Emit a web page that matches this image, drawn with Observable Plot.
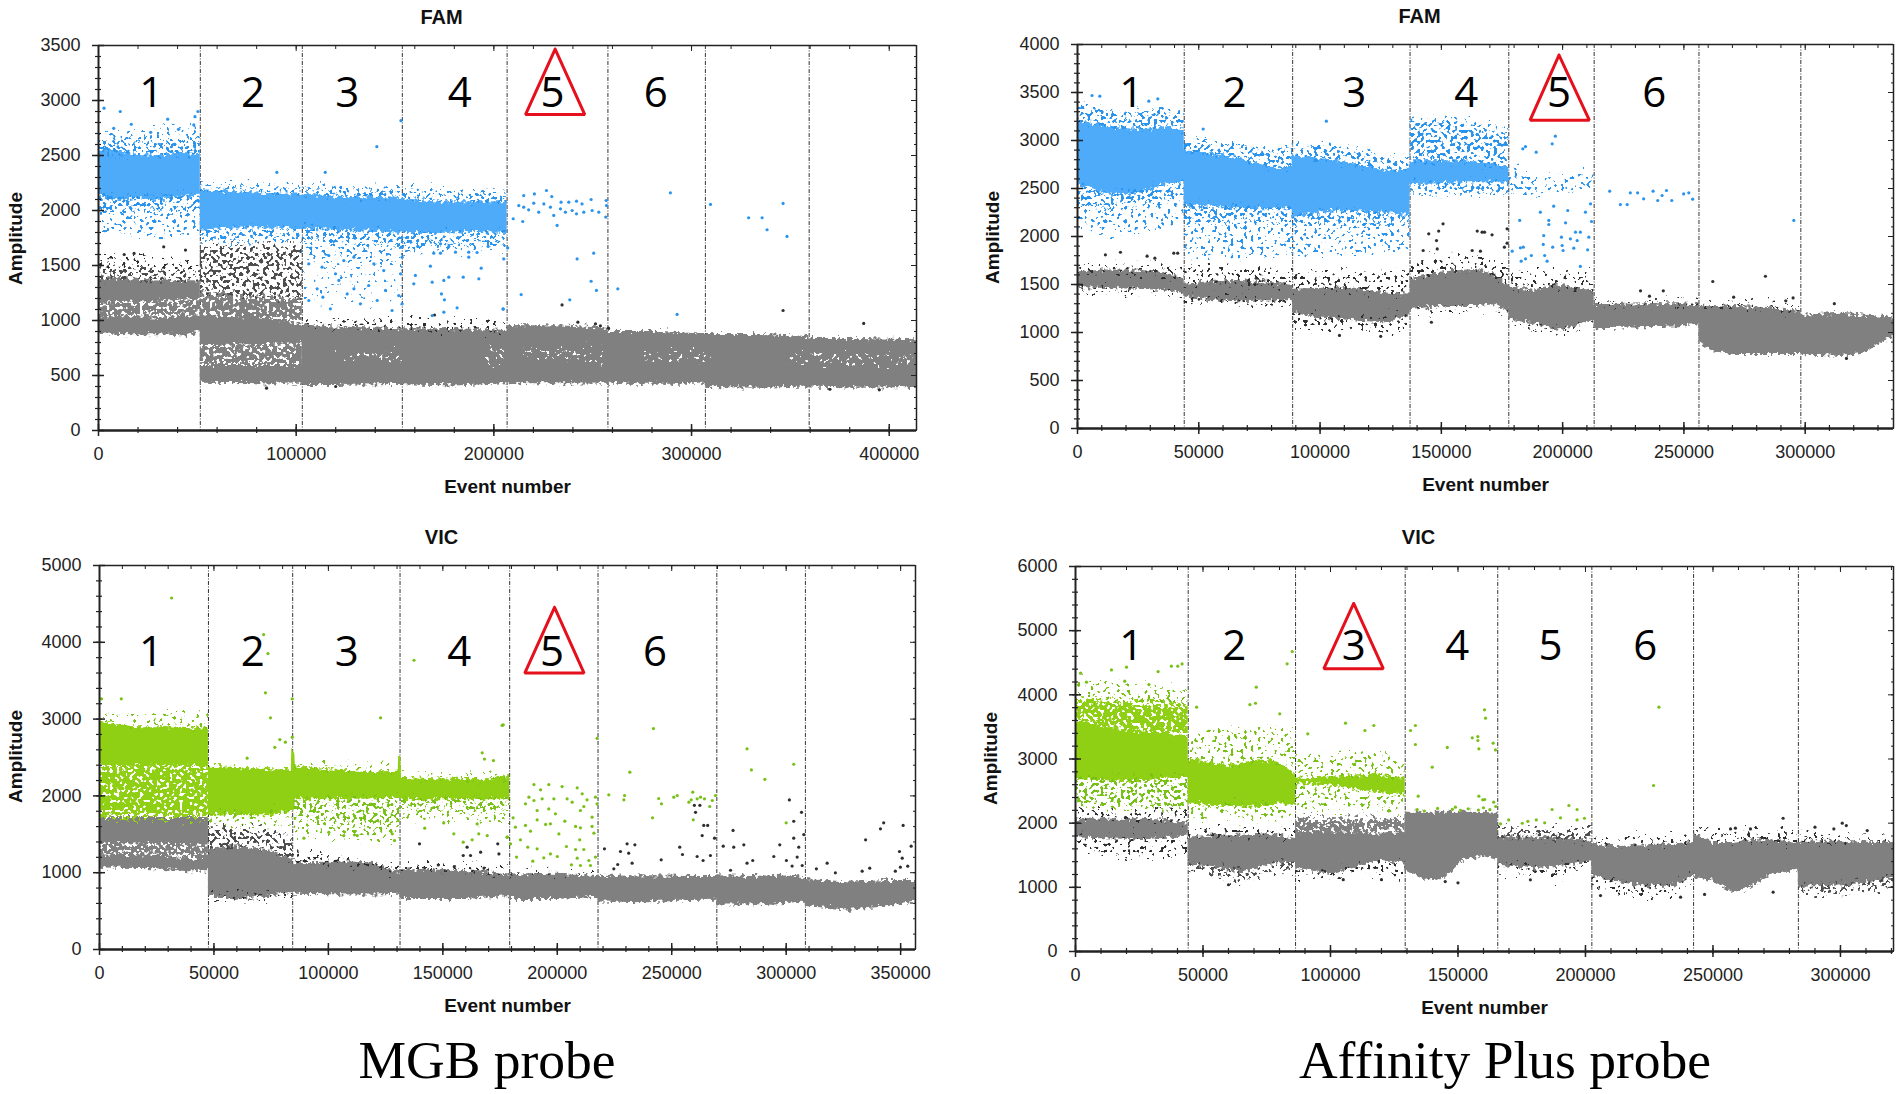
<!DOCTYPE html>
<html>
<head>
<meta charset="utf-8">
<script src="https://cdn.jsdelivr.net/npm/d3@7"></script>
<script src="https://cdn.jsdelivr.net/npm/@observablehq/plot@0.6"></script>
<style>
  body { margin: 0; background: #fff; }
  #page { position: relative; width: 1902px; height: 1094px; overflow: hidden; }
  #page > svg { position: absolute; }
  .probe { position: absolute; transform: translate(-50%, -50%); white-space: nowrap;
           font-family: "Liberation Serif", serif; font-size: 53.5px; color: #000; }
</style>
</head>
<body>
<svg id="filters" width="0" height="0" style="position:absolute"><defs></defs></svg>
<div id="page"></div>
<script>
// grain and rough edges for the bands that are too dense to list droplet by droplet
const roughen = (seed, scale) => `
  <feTurbulence type="fractalNoise" baseFrequency="0.27" numOctaves="2" seed="${seed}" result="t"/>
  <feColorMatrix in="t" type="matrix" values="0 0 0 0 .5 0 1 0 0 0 0 0 1 0 0 0 0 0 0 1" result="d"/>
  <feDisplacementMap in="SourceGraphic" in2="d" scale="${scale}" xChannelSelector="R" yChannelSelector="G" result="r"/>`
const filterTag = (id, body) => `<filter id="${id}" filterUnits="userSpaceOnUse" x="0" y="0" width="951" height="584" color-interpolation-filters="sRGB">${body}</filter>`
const speckFilter = (id, seed, cut) => filterTag(id, roughen(seed + 1, 26) + `
  <feTurbulence type="fractalNoise" baseFrequency="0.3" numOctaves="1" seed="${seed}" result="n"/>
  <feColorMatrix in="n" type="matrix" values="0 0 0 0 0 0 0 0 0 0 0 0 0 0 0 0 0 0 30 ${-cut}" result="m"/>
  <feComposite in="r" in2="m" operator="in"/>`)
document.querySelector('#filters defs').innerHTML =
  filterTag('rough', roughen(31, 10)) +
  speckFilter('speck8', 4, 20.1) + speckFilter('speck20', 9, 18) + speckFilter('speck40', 15, 16) + speckFilter('speck70', 21, 11.8)

const gap = [NaN, NaN, NaN] // breaks an area between two wells

// band rows are [event, low amplitude, high amplitude]
// dot rows are [event, amplitude]

// ---------- FAM, MGB probe ----------
const famMgbDividers = [51500, 103100, 153700, 206700, 257700, 307000, 359500]
const famMgbDigits = [26700, 78200, 125800, 182800, 229700, 281900]
const famMgbTriangle = [[231000, 3467], [246000, 2872], [216000, 2872], [231000, 3467]]
const famMgbGraySolid = [
  [0, 880, 1030], [15000, 870, 1040], [30000, 870, 1020], [44000, 860, 1040], [51500, 900, 1040], gap,
  [0, 1160, 1390], [25000, 1170, 1370], [51500, 1190, 1360], gap,
  [51500, 430, 590], [103100, 420, 590], gap,
  [51500, 770, 1040], [80000, 780, 1030], [103100, 790, 960], gap,
  [103100, 410, 960], [120000, 410, 940], [153700, 420, 925], gap,
  [153700, 415, 925], [180000, 405, 925], [206700, 425, 910], gap,
  [206700, 425, 955], [235000, 425, 950], [257700, 420, 930], gap,
  [257700, 420, 900], [285000, 420, 900], [307000, 420, 875], gap,
  [307000, 390, 873], [335000, 385, 873], [359500, 395, 855], gap,
  [359500, 395, 836], [385000, 385, 836], [413800, 390, 825]
]
const famMgbGrayDense = [
  [0, 1030, 1160], [51500, 1040, 1190], gap,
  [51500, 1040, 1250], [103100, 960, 1190], gap,
  [51500, 590, 770], [80000, 590, 780], [103100, 590, 790]
]
const famMgbGrayMedium = [
  [0, 1390, 1480], [25000, 1370, 1470], [51500, 1360, 1430], gap,
  [51500, 1250, 1670], [103100, 1190, 1670]
]
const famMgbGrayLight = [
  [0, 1480, 1560], [25000, 1470, 1590], [51500, 1430, 1500], gap,
  [103100, 960, 1000], [153700, 925, 990], [206700, 910, 990]
]
const famMgbBlueSolid = [
  [0, 2130, 2550], [10000, 2090, 2540], [20000, 2110, 2510], [30000, 2090, 2500], [40000, 2120, 2520], [51500, 2130, 2510], gap,
  [51500, 1820, 2190], [70000, 1840, 2170], [90000, 1840, 2150], [103100, 1830, 2150], [120000, 1820, 2130],
  [140000, 1810, 2120], [153700, 1790, 2110], [170000, 1790, 2080], [190000, 1800, 2080], [206700, 1790, 2080]
]
const famMgbBlueMedium = [
  [0, 2500, 2620], [51500, 2510, 2630], gap,
  [0, 1990, 2130], [51500, 2000, 2130], gap,
  [51500, 2190, 2230], [103100, 2150, 2210], [153700, 2110, 2190], [206700, 2080, 2150], gap,
  [51500, 1730, 1820], [103100, 1730, 1830], [153700, 1680, 1790], [206700, 1720, 1790]
]
const famMgbBlueLight = [
  [0, 1780, 1990], [51500, 1780, 2000], gap,
  [0, 2620, 2700], [51500, 2630, 2780], gap,
  [103100, 1550, 1730], [153700, 1500, 1680], gap,
  [153700, 1620, 1720], [206700, 1650, 1720]
]
const famMgbBlueSparse = [
  [103100, 1150, 1550], [153700, 1150, 1500]
]
const famMgbHoles = [
  [120000, 640, 700], [153700, 640, 700], gap, [195000, 620, 720], [206700, 620, 720], gap,
  [215000, 660, 720], [257000, 640, 710], gap, [275000, 650, 700], [310000, 650, 700], gap, [350000, 610, 680], [412000, 610, 680]
]
const famMgbBlueDots = [
  [2800, 2930], [11000, 2900], [35000, 2830], [16600, 2784], [7700, 2747], [26400, 2711], [40500, 2738], [48800, 2853], [50300, 2900], [48200, 2778],
  [140800, 2580], [114700, 2347], [90200, 2347], [153000, 2817],
  [215100, 2136], [220500, 2151], [226600, 2182], [229300, 2127], [234000, 2076], [237900, 2076], [241800, 2085], [244600, 2060], [249200, 2100], [256800, 2091],
  [257000, 2045], [256600, 1940], [212600, 2045], [215100, 2030], [217600, 2006], [220200, 2067], [222700, 1985], [225300, 2060], [228600, 2030], [230300, 1955],
  [233700, 2015], [236200, 1985], [239600, 2000], [241800, 1970], [245500, 1985], [249700, 2000], [253100, 1985], [209800, 1925], [214600, 1900], [232000, 1864],
  [207000, 1660], [205000, 1560], [250500, 1612], [242100, 1560], [249200, 1357], [251900, 1273], [262700, 1288], [213800, 1236], [238400, 1188], [204700, 1103],
  [289300, 2161], [292700, 1055], [309600, 2055], [328900, 1934], [335700, 1934], [338200, 1825], [346300, 2064], [348300, 1764],
  [167900, 1494], [160300, 1410], [168800, 1348], [174700, 1364], [177200, 1394], [184500, 1394], [192400, 1379], [193600, 1476], [173000, 1612], [169600, 1612],
  [177200, 1673], [180600, 1621], [187300, 1621], [187300, 1576], [191500, 1618], [197100, 1673], [173000, 1697], [186500, 1727], [173500, 1242], [175000, 1188],
  [174700, 1076], [181400, 1115], [168800, 1045], [204700, 1106], [161500, 1673], [159500, 1333],
  [106400, 1182], [110600, 1288], [113500, 1212], [117300, 1106], [121600, 1364], [125800, 1242], [129200, 1288], [132500, 1152], [136700, 1318], [141000, 1182],
  [145200, 1273], [148500, 1091], [151900, 1227], [113100, 1485], [119900, 1424], [129200, 1576], [139300, 1515], [144300, 1454], [116500, 1591], [106400, 1515],
  [124100, 1545], [152800, 1424], [153600, 1576], [153600, 1667], [153600, 1152]
]
const famMgbGrayDots = [
  [234500, 1142], [346300, 1091], [387100, 973], [242500, 985], [251400, 970], [253900, 952],
  [33000, 1670], [44000, 1640], [13000, 1600], [18000, 1610], [170000, 1050], [258000, 930], [120000, 400], [85000, 385], [370000, 375], [395000, 370]
]

// ---------- FAM, Affinity Plus probe ----------
const famAffDividers = [44000, 88700, 137100, 177800, 213000, 256200, 298200]
const famAffDigits = [22200, 64700, 114100, 160300, 198500, 237800]
const famAffTriangle = [[198500, 3889], [211000, 3212], [186600, 3212], [198500, 3889]]
const famAffGraySolid = [
  [0, 1470, 1620], [10000, 1460, 1650], [24000, 1450, 1650], [34000, 1440, 1630], [44000, 1410, 1570], gap,
  [44000, 1370, 1500], [55000, 1330, 1530], [66000, 1320, 1545], [80000, 1330, 1520], [88700, 1330, 1490], gap,
  [88700, 1200, 1450], [100000, 1150, 1460], [115000, 1120, 1460], [128000, 1100, 1410], [137100, 1190, 1400], gap,
  [137100, 1240, 1560], [150000, 1270, 1630], [165000, 1270, 1660], [172000, 1290, 1600], [177800, 1220, 1490], gap,
  [177800, 1130, 1480], [188000, 1090, 1440], [197000, 1020, 1500], [205000, 1060, 1470], [213000, 1130, 1430], gap,
  [213000, 1040, 1290], [235000, 1050, 1300], [248000, 1060, 1300], [256200, 1090, 1290], gap,
  [256200, 900, 1285], [262000, 800, 1280], [270000, 770, 1270], [285000, 770, 1260], [298200, 770, 1220], gap,
  [298200, 770, 1180], [315000, 750, 1200], [325000, 790, 1180], [332000, 900, 1170], [336400, 960, 1150]
]
const famAffGrayLight = [
  [0, 1620, 1700], [44000, 1570, 1680], gap,
  [44000, 1500, 1690], [88700, 1490, 1640], gap,
  [88700, 1450, 1630], [137100, 1400, 1620], gap,
  [137100, 1560, 1760], [165000, 1660, 1780], [177800, 1490, 1700], gap,
  [177800, 1480, 1620], [213000, 1430, 1590], gap,
  [0, 1420, 1470], [44000, 1360, 1410], gap,
  [44000, 1300, 1370], [88700, 1270, 1330], gap,
  [88700, 1040, 1200], [115000, 1020, 1120], [137100, 1030, 1190], gap,
  [137100, 1210, 1240], [177800, 1200, 1220], gap,
  [177800, 1090, 1130], [197000, 1000, 1020], [213000, 1060, 1130], gap,
  [213000, 1300, 1320], [298200, 1230, 1290]
]
const famAffBlueSolid = [
  [0, 2540, 3190], [6000, 2500, 3180], [13600, 2430, 3140], [22000, 2440, 3120], [30000, 2490, 3130], [38000, 2550, 3130], [44000, 2560, 3110], gap,
  [44000, 2323, 2896], [65800, 2288, 2823], [79500, 2288, 2721], [88500, 2288, 2720], gap,
  [88500, 2198, 2844], [107000, 2271, 2792], [127600, 2240, 2687], [137100, 2219, 2704], gap,
  [137100, 2540, 2790], [160000, 2560, 2790], [177800, 2555, 2730]
]
const famAffBlueMedium = [
  [0, 3190, 3380], [15000, 3140, 3280], [25000, 3120, 3290], [35000, 3130, 3320], [44000, 3110, 3290], gap,
  [0, 2350, 2540], [13600, 2280, 2430], [30000, 2340, 2490], [44000, 2420, 2560], gap,
  [44000, 2896, 3000], [65800, 2823, 2950], [79500, 2721, 2900], [88500, 2720, 2920], gap,
  [88500, 2844, 2960], [107000, 2792, 2930], [127600, 2687, 2810], [137100, 2704, 2790], gap,
  [44000, 2150, 2323], [88500, 2180, 2288], gap,
  [88500, 2100, 2198], [107000, 2120, 2271], [137100, 2130, 2219], gap,
  [137100, 2790, 3200], [160000, 2790, 3200], [177800, 2730, 3080], gap,
  [137100, 2450, 2540], [177800, 2450, 2555]
]
const famAffBlueLight = [
  [0, 2050, 2350], [13600, 2050, 2280], [30000, 2050, 2340], [44000, 2150, 2420], gap,
  [44000, 1800, 2150], [88500, 1800, 2180], gap,
  [88500, 1800, 2100], [137100, 1850, 2130], gap,
  [177800, 2450, 2700], [195000, 2450, 2620], [213000, 2480, 2660]
]
const famAffBlueDots = [
  [6000, 3469], [9200, 3462], [33100, 3434], [29400, 3410], [102600, 3201], [51800, 3120],
  [197000, 3045], [195700, 2965], [184700, 2937], [183600, 2913], [189100, 2878], [182300, 2167],
  [219400, 2472], [223800, 2333], [226600, 2333], [227900, 2455], [230900, 2455], [233400, 2392], [237300, 2472], [239200, 2375], [241000, 2427], [242800, 2479],
  [245000, 2375], [249900, 2444], [252000, 2455], [253600, 2389], [295300, 2167],
  [196300, 2316], [202100, 2271], [190800, 2253], [194300, 2167], [194300, 2125], [201200, 2142], [209400, 2253], [211500, 2340], [211900, 2156], [205300, 2045],
  [207300, 2045], [192200, 2010], [199500, 1993], [203200, 1976], [206000, 1958], [210800, 1993], [192000, 1917], [199800, 1906], [195900, 1889], [204600, 1878],
  [210300, 1861], [182600, 1882], [183800, 1889], [179200, 1847], [200200, 1854], [192600, 1802], [187100, 1802], [184700, 1767], [182900, 1743], [193600, 1743], [207300, 1688]
]
const famAffGrayDots = [
  [167800, 2045], [170900, 2017], [177100, 2080], [177100, 1930], [176000, 1889], [261900, 1531], [283600, 1586], [270500, 1368], [232100, 1434], [235800, 1378], [241500, 1434],
  [11500, 1809], [17700, 1836], [28700, 1795], [31900, 1774], [39700, 1826], [41300, 1826], [145900, 1107], [150700, 2132], [148900, 2056], [144800, 2028],
  [164800, 2056], [166800, 2045], [148000, 1958], [142500, 1854], [148300, 1871], [162700, 1854], [166100, 1847], [108000, 970], [125000, 960], [292000, 1330], [295000, 1360], [312000, 1300], [317000, 730]
]

// ---------- VIC, MGB probe ----------
const vicMgbDividers = [47600, 84400, 131300, 179200, 217800, 269700, 308400]
const vicMgbDigits = [22500, 67000, 108000, 157200, 197700, 242700]
const vicMgbTriangle = [[198800, 4456], [211700, 3600], [185800, 3600], [198800, 4456]]
const vicMgbGraySolid = [
  [0, 1060, 1230], [25000, 1050, 1230], [40000, 1010, 1170], [47600, 1030, 1230], gap,
  [0, 1380, 1720], [47600, 1360, 1720], gap,
  [47600, 700, 1300], [60000, 640, 1350], [75000, 700, 1280], [84400, 730, 1170], gap,
  [84400, 720, 1130], [110000, 710, 1140], [120000, 710, 1120], [131300, 720, 1000], gap,
  [131300, 650, 1040], [160000, 650, 1030], [179200, 690, 970], gap,
  [179200, 650, 970], [200000, 650, 980], [217800, 680, 950], gap,
  [217800, 620, 950], [240000, 610, 960], [262000, 640, 950], [269700, 640, 950], gap,
  [269700, 580, 960], [285000, 580, 950], [300000, 600, 970], [308400, 620, 930], gap,
  [308400, 560, 910], [328000, 510, 880], [345000, 560, 900], [356500, 620, 900]
]
const vicMgbGrayDense = [
  [0, 1220, 1380], [25000, 1220, 1380], [40000, 1170, 1360], [47600, 1230, 1360]
]
const vicMgbGrayMedium = [
  [47600, 1300, 1600], [70000, 1350, 1550], [84400, 1170, 1450]
]
const vicMgbGrayLight = [
  [84400, 1130, 1280], [131300, 1000, 1100], gap,
  [131300, 1040, 1120], [179200, 970, 1070], gap,
  [179200, 970, 1000], [217800, 950, 990], gap,
  [47600, 610, 700], [84400, 690, 730]
]
const vicMgbGreenSolid = [
  [0, 2400, 2960], [15000, 2380, 2900], [30000, 2390, 2900], [47600, 2380, 2880], gap,
  [47600, 1760, 2390], [60000, 1740, 2370], [75000, 1740, 2340], [83800, 1800, 2340], [84000, 1800, 2600], [85200, 1800, 2600], [85600, 1950, 2390],
  [100000, 1950, 2340], [120000, 1960, 2310], [130500, 1970, 2320], [130700, 1970, 2510], [131600, 1970, 2510], [132000, 1950, 2240],
  [150000, 1950, 2220], [170000, 1950, 2210], [179200, 1950, 2270]
]
const vicMgbGreenDense = [
  [0, 1720, 2400], [47600, 1720, 2380]
]
const vicMgbGreenMedium = [
  [85000, 1700, 1950], [131300, 1600, 1970], gap,
  [131300, 1850, 1950], [179200, 1800, 1950]
]
const vicMgbGreenLight = [
  [0, 2960, 3050], [47600, 2880, 3050], gap,
  [47600, 1600, 1760], [84400, 1650, 1800], gap,
  [85000, 1500, 1700], [131300, 1400, 1600], gap,
  [131300, 1700, 1850], [179200, 1650, 1800], gap,
  [85000, 2340, 2400], [131000, 2320, 2400], gap, [131500, 2240, 2280], [179200, 2210, 2280]
]
const vicMgbGreenDots = [
  [175900, 2917], [189800, 2148], [192700, 2079], [196300, 2148], [202100, 2122], [208700, 2105], [187600, 1983], [189800, 1940], [193400, 1962], [198500, 1962],
  [204300, 1962], [206500, 1918], [210900, 2027], [213000, 1949], [216700, 1983], [217400, 1897], [186100, 1897], [191200, 1810], [196300, 1831], [210100, 1810],
  [211600, 1862], [215200, 1723], [199200, 1766], [191200, 1688], [180700, 1714], [203300, 1671], [186100, 1615], [181700, 1593], [197000, 1636], [194900, 1628],
  [208000, 1602], [210100, 1584], [215200, 1602], [188300, 1541], [200700, 1505], [216000, 1514], [209800, 1428], [183900, 1428], [178100, 1463], [179600, 1376],
  [187100, 1333], [191200, 1311], [204000, 1341], [208000, 1302], [211600, 1302], [197000, 1245], [194100, 1194], [200000, 1211], [182200, 1203], [189300, 1150],
  [208700, 1189], [213800, 1159], [214500, 1094], [210100, 1094], [206200, 1102], [216700, 1203],
  [217400, 2750], [222500, 2014], [231700, 2309], [242000, 2877], [229400, 2005], [229100, 1949], [244300, 1966], [245500, 1897], [241600, 1714], [250900, 1983],
  [252400, 2005], [259200, 2048], [257500, 1918], [258500, 1949], [261100, 1962], [262600, 1983], [264300, 1962], [266600, 1862], [267700, 1940], [269100, 2005], [259400, 1688],
  [282900, 2613], [284800, 2338], [290700, 2216], [303300, 2412], [300000, 1649],
  [9500, 3264], [900, 3264], [72500, 3342], [74700, 3016], [78800, 2734], [81200, 2700], [76600, 2633], [84200, 3264], [84200, 2765], [64500, 2491], [122800, 3016],
  [167200, 2561], [168200, 2480], [172100, 2460], [176400, 2925], [31500, 4577], [71700, 4101], [73600, 3853], [137400, 3766],
  [154800, 1506], [158900, 1397], [162800, 1428], [165700, 1506], [169400, 1484], [142100, 1580], [178100, 1463], [150400, 1648], [165000, 1635],
  [89300, 1449], [100200, 1526], [106700, 1484], [112600, 1484], [127900, 1506], [128900, 1419]
]
const vicMgbGrayDots = [
  [301400, 1948], [306700, 1786], [303300, 1670], [307700, 1497], [303300, 1450], [305500, 1332], [297200, 1363], [294600, 1211], [300100, 1159], [304800, 1203],
  [302600, 1086], [307000, 1094], [282900, 1124], [285400, 1159], [276800, 1550], [277100, 1332], [272500, 1345], [281500, 1363], [275700, 1032],
  [259900, 1877], [262300, 1877], [260400, 1786], [264000, 1615], [265700, 1615], [263300, 1484], [268700, 1450], [253500, 1332], [254700, 1237], [261100, 1211],
  [266900, 1224], [245400, 1168], [263700, 1159], [220600, 1311], [227600, 1276], [230500, 1376], [231200, 1254], [233900, 1363], [232700, 1124], [226400, 1107], [224700, 1051],
  [342600, 1649], [341200, 1571], [334700, 1428], [351100, 1615], [349500, 1276], [350700, 1189], [354600, 1345], [313200, 1051], [317900, 1124], [321500, 998],
  [336500, 1059], [333200, 1020], [347700, 1020], [349900, 1072], [353100, 1085],
  [139800, 1376], [160600, 1332], [166500, 1267], [162100, 1224], [174000, 1376], [174500, 1245], [158900, 1224], [148000, 1100], [155000, 1080], [168000, 1060]
]

// ---------- VIC, Affinity Plus probe ----------
const vicAffDividers = [44200, 86300, 129300, 165600, 202500, 242400, 283500]
const vicAffDigits = [21900, 62300, 109100, 149700, 186300, 223400]
const vicAffTriangle = [[109100, 5424], [120700, 4408], [97400, 4408], [109100, 5424]]
const vicAffGraySolid = [
  [0, 1770, 2060], [25000, 1740, 2060], [35000, 1760, 2050], [44200, 1800, 2000], gap,
  [44200, 1360, 1780], [55000, 1300, 1820], [66000, 1230, 1810], [76000, 1360, 1840], [86300, 1380, 1760], gap,
  [86300, 1300, 1850], [100000, 1200, 1870], [110000, 1320, 1850], [120000, 1420, 1830], [129300, 1380, 1850], gap,
  [129300, 1260, 2170], [137000, 1110, 2170], [145000, 1140, 2170], [152000, 1420, 2170], [160000, 1480, 2170], [165600, 1420, 2150], gap,
  [165600, 1350, 1790], [180000, 1290, 1780], [190000, 1330, 1780], [202500, 1400, 1720], gap,
  [202500, 1180, 1680], [212000, 1080, 1640], [225000, 1010, 1650], [235000, 1020, 1680], [242400, 1180, 1700], gap,
  [242400, 1160, 1860], [250000, 1100, 1700], [258000, 910, 1700], [265000, 1000, 1740], [272000, 1180, 1740], [283500, 1270, 1700], gap,
  [283500, 1000, 1720], [300000, 1020, 1720], [312000, 1080, 1700], [320800, 1140, 1700]
]
const vicAffGrayDense = [
  [86300, 1850, 2060], [129300, 1850, 2040]
]
const vicAffGrayMedium = [
  [44200, 1300, 1360], [55000, 1180, 1300], [66000, 1080, 1230], [76000, 1230, 1360], [86300, 1280, 1380], gap,
  [165600, 1790, 1900], [202500, 1720, 1880], gap,
  [283500, 900, 1000], [300000, 910, 1020], [312000, 960, 1080], [320800, 1020, 1140]
]
const vicAffGrayLight = [
  [0, 2060, 2220], [44200, 2000, 2180], gap,
  [0, 1600, 1770], [20000, 1500, 1740], [44200, 1500, 1800], gap,
  [44200, 1780, 1900], [86300, 1760, 1900], gap,
  [86300, 1170, 1300], [100000, 1150, 1200], [115000, 1250, 1400], [129300, 1120, 1380], gap,
  [165600, 1200, 1350], [190000, 1150, 1330], [202500, 1330, 1400], gap,
  [202500, 1680, 1750], [242400, 1700, 1800], gap,
  [202500, 1030, 1180], [212000, 900, 1080], [225000, 860, 1010], [235000, 860, 1020], [242400, 1100, 1180], gap,
  [242400, 1860, 1900], [260000, 1700, 1870], [283500, 1700, 1880], gap,
  [283500, 1720, 1800], [320800, 1700, 1780]
]
const vicAffGreenSolid = [
  [0, 2680, 3600], [20000, 2650, 3450], [44200, 2700, 3350], gap,
  [44200, 2300, 3000], [60000, 2260, 2900], [72000, 2250, 2990], [80000, 2300, 2950], [86300, 2300, 2750], gap,
  [86300, 2620, 2700], [100000, 2580, 2720], [118000, 2480, 2750], [129300, 2440, 2700]
]
const vicAffGreenDense = [
  [0, 3600, 3930], [20000, 3450, 3880], [44200, 3350, 3850]
]
const vicAffGreenMedium = [
  [0, 2260, 2680], [44200, 2230, 2700]
]
const vicAffGreenLight = [
  [0, 3930, 4200], [22000, 3880, 4150], [44200, 3850, 4050], gap,
  [44200, 3000, 3400], [60000, 2900, 3450], [75000, 2990, 3500], [86300, 2750, 3400], gap,
  [44200, 2050, 2300], [86300, 2050, 2300], gap,
  [86300, 2700, 3050], [108000, 2720, 3100], [120000, 2750, 3100], [129300, 2700, 2900], gap,
  [86300, 2200, 2620], [129300, 2200, 2440]
]
const vicAffGreenDots = [
  [131400, 3444], [133300, 3522], [133300, 3226], [139900, 2873], [145800, 3180], [155600, 3330], [157800, 3350], [157800, 3288], [158200, 3158], [160400, 3766],
  [160800, 3636], [134400, 2421], [158200, 2421], [160500, 2369],
  [2000, 4337], [14100, 4388], [20000, 4431], [32400, 4362], [37600, 4446], [40100, 4446], [41800, 4482], [4300, 4197], [19300, 4213], [28800, 4160],
  [83000, 4483], [85000, 4675], [70900, 4120], [68400, 3848], [70600, 3869], [80100, 3704], [47500, 3808],
  [105900, 3558], [113500, 3444], [117000, 3522], [91100, 3392],
  [163800, 3246], [164700, 3142], [159700, 2364], [164000, 2327], [166700, 1989], [169900, 2051], [175200, 1999], [177400, 2029], [180700, 2051], [184000, 2005],
  [186900, 2213], [190200, 2083], [193500, 2275], [196700, 2213], [196700, 2051], [199600, 2077], [228800, 3808], [226700, 2587],
  [134000, 2210], [136800, 2190], [142000, 2230], [147800, 2215], [149000, 2250], [151000, 2200], [154000, 2225], [158000, 2205], [160000, 2240], [162500, 2210], [164800, 2260]
]
const vicAffGrayDots = [
  [277500, 2077], [290000, 1937], [297400, 1911], [300700, 2000], [302300, 1963], [310500, 1885], [264700, 1911], [258800, 1922], [256900, 1911], [273600, 924],
  [246700, 889], [205900, 872], [237300, 847], [178400, 1117], [60000, 1040], [105000, 1120], [120000, 1120], [150000, 1070], [145000, 1090]
]

const triangleRed = '#e5101c'
const colorGray = '#808080'
const colorGrayDot = '#2e2e2e'

function speckle(rows, fill, filter) {
  return Plot.areaY(rows, { x: d => d[0], y1: d => d[1], y2: d => d[2], fill, imageFilter: `url(#${filter})` })
}

function panel(cfg) {
  const { xMax, yMax, xTicks, yTicks, xMinor, yMinor, m, main, mainDot } = cfg
  const axisStyle = { tickFormat: d => String(d), label: null }
  const marks = [
    Plot.ruleX(cfg.dividers, { stroke: '#333', strokeWidth: 1, strokeDasharray: '4,1.5,1,1.5' }),

    speckle(cfg.graySolid, colorGray, 'rough'),
    cfg.grayDense ? speckle(cfg.grayDense, colorGray, 'speck70') : null,
    cfg.grayMedium ? speckle(cfg.grayMedium, '#4c4c4c', 'speck40') : null,
    speckle(cfg.grayLight, colorGrayDot, 'speck20'),

    speckle(cfg.mainSolid, main, 'rough'),
    cfg.mainDense ? speckle(cfg.mainDense, main, 'speck70') : null,
    speckle(cfg.mainMedium, mainDot, 'speck40'),
    speckle(cfg.mainLight, mainDot, 'speck20'),
    cfg.mainSparse ? speckle(cfg.mainSparse, mainDot, 'speck8') : null,
    cfg.holes ? speckle(cfg.holes, '#fff', 'speck20') : null,

    Plot.dot(cfg.grayDots, { x: d => d[0], y: d => d[1], r: 1.6, fill: colorGrayDot }),
    Plot.dot(cfg.mainDots, { x: d => d[0], y: d => d[1], r: 1.6, fill: mainDot }),

    // frame
    Plot.ruleY([0], { stroke: '#222', strokeWidth: 2.5 }),
    Plot.ruleY([yMax], { stroke: '#222', strokeWidth: 1.5 }),
    Plot.ruleX([0], { stroke: '#222', strokeWidth: 2 }),
    Plot.ruleX([xMax], { stroke: '#222', strokeWidth: 1.5 }),

    // major and minor ticks cross the axes, the far sides only point inward
    Plot.axisX({ ...axisStyle, anchor: 'bottom', ticks: xTicks, tickSize: 6, tickPadding: 11, stroke: '#222', strokeWidth: 1.5 }),
    Plot.axisX({ anchor: 'bottom', ticks: xTicks, tickSize: -6, text: null, label: null, stroke: '#222', strokeWidth: 1.5 }),
    Plot.axisX({ anchor: 'bottom', ticks: xMinor, tickSize: 3, text: null, label: null, stroke: '#222', strokeWidth: 1.2 }),
    Plot.axisX({ anchor: 'bottom', ticks: xMinor, tickSize: -3, text: null, label: null, stroke: '#222', strokeWidth: 1.2 }),
    Plot.axisX({ anchor: 'top', ticks: xTicks, tickSize: -5, text: null, label: null, stroke: '#222' }),
    Plot.axisX({ anchor: 'top', ticks: xMinor, tickSize: -3, text: null, label: null, stroke: '#222' }),

    Plot.axisY({ ...axisStyle, anchor: 'left', ticks: yTicks, tickSize: 6, tickPadding: 12, stroke: '#222', strokeWidth: 1.5 }),
    Plot.axisY({ anchor: 'left', ticks: yTicks, tickSize: -6, text: null, label: null, stroke: '#222', strokeWidth: 1.5 }),
    Plot.axisY({ anchor: 'left', ticks: yMinor, tickSize: 3, text: null, label: null, stroke: '#222', strokeWidth: 1.2 }),
    Plot.axisY({ anchor: 'left', ticks: yMinor, tickSize: -3, text: null, label: null, stroke: '#222', strokeWidth: 1.2 }),
    Plot.axisY({ anchor: 'right', ticks: yTicks, tickSize: -6, text: null, label: null, stroke: '#222' }),
    Plot.axisY({ anchor: 'right', ticks: yMinor, tickSize: -3, text: null, label: null, stroke: '#222' }),

    // well numbers and the red marker
    Plot.text(cfg.digits, {
      x: d => d,
      y: cfg.digitY,
      text: (d, i) => String(i + 1),
      fontFamily: 'Open Sans',
      fontWeight: 500,
      fontSize: 42,
      fill: '#000',
      lineAnchor: 'middle'
    }),
    Plot.line(cfg.triangle, { x: d => d[0], y: d => d[1], stroke: triangleRed, strokeWidth: 3, strokeLinejoin: 'miter' }),

    Plot.text([cfg.title], {
      frameAnchor: 'top-left', dx: cfg.titleXY[0] - m[3], dy: cfg.titleXY[1] - m[0],
      fontFamily: 'Liberation Sans', fontWeight: 'bold', fontSize: 20, lineAnchor: 'middle', textAnchor: 'middle', fill: '#111'
    }),
    Plot.text(['Event number'], {
      frameAnchor: 'top-left', dx: cfg.xLabelXY[0] - m[3], dy: cfg.xLabelXY[1] - m[0],
      fontFamily: 'Liberation Sans', fontWeight: 'bold', fontSize: 19, lineAnchor: 'middle', textAnchor: 'middle', fill: '#111'
    }),
    Plot.text(['Amplitude'], {
      frameAnchor: 'top-left', dx: cfg.yLabelXY[0] - m[3], dy: cfg.yLabelXY[1] - m[0], rotate: -90,
      fontFamily: 'Liberation Sans', fontWeight: 'bold', fontSize: 19, lineAnchor: 'middle', textAnchor: 'middle', fill: '#111'
    })
  ].filter(Boolean)

  const chart = Plot.plot({
    width: cfg.w,
    height: cfg.h,
    marginTop: m[0],
    marginRight: m[1],
    marginBottom: m[2],
    marginLeft: m[3],
    x: { domain: [0, xMax], axis: null },
    y: { domain: [0, yMax], axis: null },
    style: { fontFamily: 'Liberation Sans', fontSize: '18px', color: '#222', background: 'transparent', overflow: 'visible' },
    marks
  })
  chart.style.left = cfg.left + 'px'
  chart.style.top = cfg.top + 'px'
  d3.select('#page').append(() => chart)
}

const blue = '#4dabfa'
const blueDot = '#2a93ec'
const green = '#8fd014'
const greenDot = '#77c016'

panel({
  left: 0, top: 0, w: 951, h: 510, m: [45, 35, 80, 98],
  xMax: 413800, yMax: 3500,
  xTicks: [0, 100000, 200000, 300000, 400000], xMinor: d3.range(20000, 413800, 20000),
  yTicks: [0, 500, 1000, 1500, 2000, 2500, 3000, 3500], yMinor: d3.range(100, 3500, 100),
  dividers: famMgbDividers, digits: famMgbDigits, digitY: 3066, triangle: famMgbTriangle,
  title: 'FAM', titleXY: [441, 17], xLabelXY: [507, 486], yLabelXY: [15, 238],
  main: blue, mainDot: blueDot,
  graySolid: famMgbGraySolid, grayDense: famMgbGrayDense, grayMedium: famMgbGrayMedium, grayLight: famMgbGrayLight,
  mainSolid: famMgbBlueSolid, mainMedium: famMgbBlueMedium, mainLight: famMgbBlueLight, mainSparse: famMgbBlueSparse,
  holes: famMgbHoles, mainDots: famMgbBlueDots, grayDots: famMgbGrayDots
})

panel({
  left: 951, top: 0, w: 951, h: 510, m: [44, 9, 82, 126],
  xMax: 336400, yMax: 4000,
  xTicks: [0, 50000, 100000, 150000, 200000, 250000, 300000], xMinor: d3.range(10000, 336400, 10000),
  yTicks: [0, 500, 1000, 1500, 2000, 2500, 3000, 3500, 4000], yMinor: d3.range(100, 4000, 100),
  dividers: famAffDividers, digits: famAffDigits, digitY: 3490, triangle: famAffTriangle,
  title: 'FAM', titleXY: [468, 16], xLabelXY: [534, 484], yLabelXY: [41, 237],
  main: blue, mainDot: blueDot,
  graySolid: famAffGraySolid, grayLight: famAffGrayLight,
  mainSolid: famAffBlueSolid, mainMedium: famAffBlueMedium, mainLight: famAffBlueLight,
  mainDots: famAffBlueDots, grayDots: famAffGrayDots
})

panel({
  left: 0, top: 510, w: 951, h: 584, m: [55, 36, 145, 99],
  xMax: 356500, yMax: 5000,
  xTicks: [0, 50000, 100000, 150000, 200000, 250000, 300000, 350000], xMinor: d3.range(10000, 356500, 10000),
  yTicks: [0, 1000, 2000, 3000, 4000, 5000], yMinor: d3.range(200, 5000, 200),
  dividers: vicMgbDividers, digits: vicMgbDigits, digitY: 3863, triangle: vicMgbTriangle,
  title: 'VIC', titleXY: [441, 27], xLabelXY: [507, 495], yLabelXY: [15, 246],
  main: green, mainDot: greenDot,
  graySolid: vicMgbGraySolid, grayDense: vicMgbGrayDense, grayMedium: vicMgbGrayMedium, grayLight: vicMgbGrayLight,
  mainSolid: vicMgbGreenSolid, mainDense: vicMgbGreenDense, mainMedium: vicMgbGreenMedium, mainLight: vicMgbGreenLight,
  mainDots: vicMgbGreenDots, grayDots: vicMgbGrayDots
})

panel({
  left: 951, top: 510, w: 951, h: 584, m: [56, 9, 143, 124],
  xMax: 320800, yMax: 6000,
  xTicks: [0, 50000, 100000, 150000, 200000, 250000, 300000], xMinor: d3.range(10000, 320800, 10000),
  yTicks: [0, 1000, 2000, 3000, 4000, 5000, 6000], yMinor: d3.range(200, 6000, 200),
  dividers: vicAffDividers, digits: vicAffDigits, digitY: 4750, triangle: vicAffTriangle,
  title: 'VIC', titleXY: [467, 27], xLabelXY: [533, 497], yLabelXY: [39, 248],
  main: green, mainDot: greenDot,
  graySolid: vicAffGraySolid, grayDense: vicAffGrayDense, grayMedium: vicAffGrayMedium, grayLight: vicAffGrayLight,
  mainSolid: vicAffGreenSolid, mainDense: vicAffGreenDense, mainMedium: vicAffGreenMedium, mainLight: vicAffGreenLight,
  mainDots: vicAffGreenDots, grayDots: vicAffGrayDots
})

d3.select('#page').append('div').attr('class', 'probe').style('left', '487px').style('top', '1060px').text('MGB probe')
d3.select('#page').append('div').attr('class', 'probe').style('left', '1505px').style('top', '1060px').text('Affinity Plus probe')
</script>
</body>
</html>
